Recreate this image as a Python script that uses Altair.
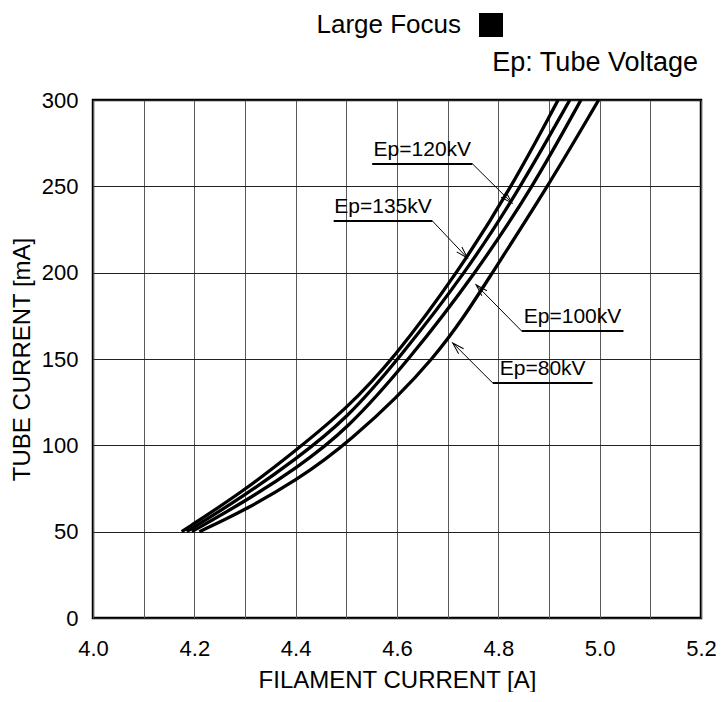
import math
import altair as alt
import pandas as pd

# ---- curve data ----
x_135 = [4.175, 4.30, 4.40, 4.50, 4.593, 4.72, 4.827, 4.918]
y_135 = [50, 74, 97, 121, 150, 200, 250, 300]

x_120 = [4.185, 4.30, 4.40, 4.50, 4.603, 4.736, 4.845, 4.941]
y_120 = [50, 71, 92, 115, 150, 200, 250, 300]

x_100 = [4.195, 4.30, 4.40, 4.50, 4.625, 4.756, 4.869, 4.963]
y_100 = [50, 67.5, 86.5, 108.5, 150, 200, 250, 300]

x_80 = [4.21, 4.30, 4.40, 4.50, 4.68, 4.788, 4.898, 4.998]
y_80 = [50, 62.5, 79.5, 100, 150, 200, 250, 300]

# ---- annotation data ----
ep_labels = ["Ep=135kV", "Ep=120kV", "Ep=100kV", "Ep=80kV"]
ul_x1 = [4.475, 4.551, 4.846, 4.789]
ul_x2 = [4.670, 4.749, 5.047, 4.986]
ul_y = [229.9, 263.0, 166.2, 136.1]
joint_x = [4.670, 4.749, 4.846, 4.789]
tip_x = [4.739, 4.827, 4.756, 4.710]
tip_y = [208.5, 240.3, 193.0, 159.3]

x_grid = [4.0, 4.1, 4.2, 4.3, 4.4, 4.5, 4.6, 4.7, 4.8, 4.9, 5.0, 5.1, 5.2]
y_grid = [0, 50, 100, 150, 200, 250, 300]

W, H = 608, 518
FONT = "Liberation Sans"

rows = []
for name, xs, ys in [("135", x_135, y_135), ("120", x_120, y_120),
                     ("100", x_100, y_100), ("80", x_80, y_80)]:
    for i, (a, b) in enumerate(zip(xs, ys)):
        rows.append({"series": name, "x": a, "y": b, "order": i})
curves_df = pd.DataFrame(rows)

sx = W / 1.2
sy = H / 300.0
angles = []
for jx, jy, tx, ty in zip(joint_x, ul_y, tip_x, tip_y):
    dx = (tx - jx) * sx
    dy = -(ty - jy) * sy
    angles.append(math.degrees(math.atan2(dy, dx)) % 360)

ann_df = pd.DataFrame({
    "label": ep_labels,
    "ux1": ul_x1, "ux2": ul_x2, "uy": ul_y,
    "jx": joint_x, "tx": tip_x, "ty": tip_y,
    "mid": [(a + b) / 2 for a, b in zip(ul_x1, ul_x2)],
    "angle": angles,
})

xscale = alt.Scale(domain=[4.0, 5.2], nice=False, zero=False)
yscale = alt.Scale(domain=[0, 300], nice=False, zero=False)

xaxis = alt.Axis(
    values=x_grid, title="FILAMENT CURRENT [A]",
    labelExpr="round(datum.value*10)%2==0 ? format(datum.value,'.1f') : ''",
    labelFontSize=22, titleFontSize=24, labelPadding=20, titlePadding=9,
    labelFlush=False, gridColor="#5a5a5a")
yaxis = alt.Axis(
    values=y_grid, title="TUBE CURRENT  [mA]",
    labelFontSize=22, titleFontSize=24, labelPadding=15, titlePadding=7,
    gridColor="#222222")


def X(field):
    return alt.X(field, type="quantitative", scale=xscale, axis=xaxis)


def Y(field):
    return alt.Y(field, type="quantitative", scale=yscale, axis=yaxis)


curves = alt.Chart(curves_df).mark_line(
    color="black", strokeWidth=3.3, interpolate="basis"
).encode(
    x=X("x"), y=Y("y"),
    detail="series:N",
    order="order:Q",
)

underline = alt.Chart(ann_df).mark_rule(color="black", strokeWidth=2).encode(
    x=X("ux1"), x2="ux2", y=Y("uy"),
)

leader = alt.Chart(ann_df).mark_rule(color="black", strokeWidth=1).encode(
    x=X("jx"), x2="tx", y=Y("uy"), y2="ty",
)

arrows = alt.Chart(ann_df).mark_point(
    shape="M -1 -0.3 L 0 0 L -1 0.3", filled=False, color="black",
    strokeWidth=1, size=560, opacity=1
).encode(
    x=X("tx"), y=Y("ty"),
    angle=alt.Angle("angle:Q", scale=None),
)

ann_text = alt.Chart(ann_df).mark_text(
    font=FONT, fontSize=21, color="black", align="center",
    baseline="alphabetic", dy=-8
).encode(
    x=X("mid"), y=Y("uy"),
    text="label:N",
)

title_df = pd.DataFrame({"t": ["Large Focus"]})
title_txt = alt.Chart(title_df).mark_text(
    font=FONT, fontSize=26, color="black", align="right", baseline="alphabetic"
).encode(x=alt.value(368), y=alt.value(-67), text="t:N")

square = alt.Chart(title_df).mark_square(
    color="black", size=576, filled=True, opacity=1
).encode(x=alt.value(398), y=alt.value(-75))

sub_df = pd.DataFrame({"t": ["Ep: Tube Voltage"]})
sub_txt = alt.Chart(sub_df).mark_text(
    font=FONT, fontSize=27, color="black", align="right", baseline="alphabetic"
).encode(x=alt.value(605), y=alt.value(-29), text="t:N")

chart = alt.layer(
    curves, underline, leader, arrows, ann_text, title_txt, square, sub_txt
).properties(
    width=W, height=H,
    autosize=alt.AutoSizeParams(type="none"),
    padding={"left": 85, "top": 92, "right": 19, "bottom": 74},
    background="white",
).configure_view(
    stroke="black", strokeWidth=2.5
).configure_axis(
    grid=True, gridWidth=1, gridOpacity=1,
    domain=False, ticks=False, tickSize=0,
    labelFont=FONT, titleFont=FONT, labelColor="black", titleColor="black",
    titleFontWeight="normal",
)

chart.save("out.html", embed_options={"renderer": "svg", "actions": False})
